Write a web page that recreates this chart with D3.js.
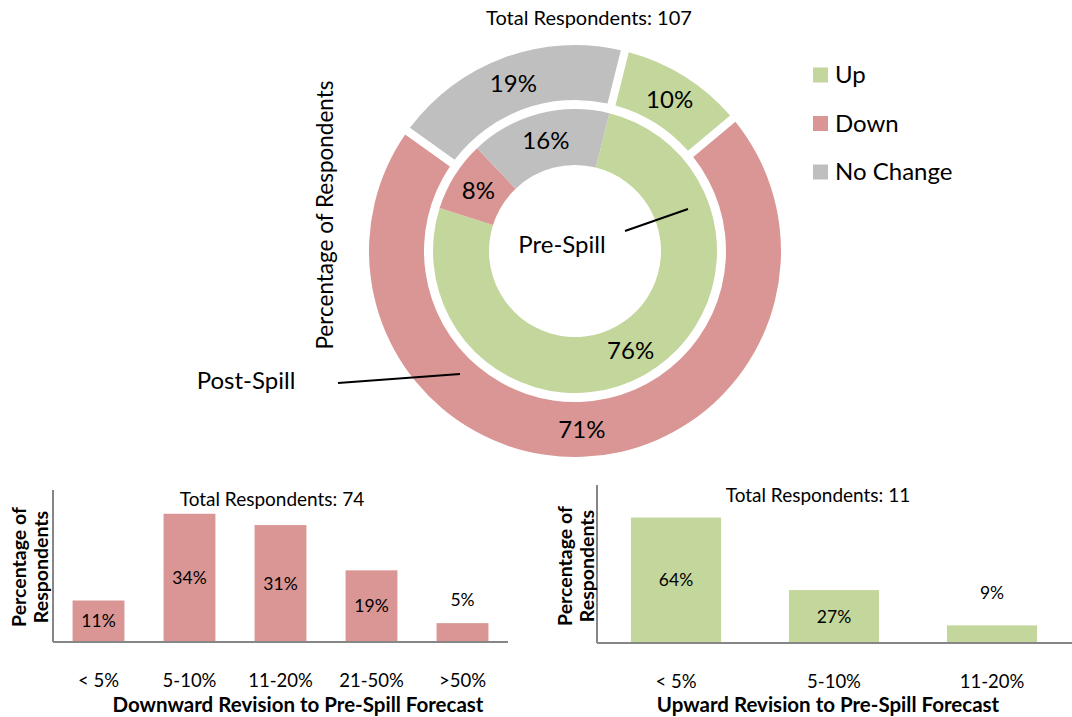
<!DOCTYPE html>
<html><head><meta charset="utf-8">
<script src="https://cdn.jsdelivr.net/npm/d3@7"></script>
<style>
body{margin:0;background:#fff;}
text{font-family:Lato,"Open Sans",sans-serif;fill:#000;}
</style></head>
<body><svg id="c" width="1072" height="717"></svg>
<script>
// ---------- data ----------
const donutCategories = ["Up", "Down", "No Change"];
const preSpill = [76, 8, 16];
const postSpill = [10, 71, 19];
const donutTotal = "Total Respondents: 107";

const downCategories = ["< 5%", "5-10%", "11-20%", "21-50%", ">50%"];
const downValues = [11, 34, 31, 19, 5];
const downTotal = "Total Respondents: 74";
const downTitle = "Downward Revision to Pre-Spill Forecast";

const upCategories = ["< 5%", "5-10%", "11-20%"];
const upValues = [64, 27, 9];
const upTotal = "Total Respondents: 11";
const upTitle = "Upward Revision to Pre-Spill Forecast";

const colors = {"Up": "#C3D69B", "Down": "#D99694", "No Change": "#BFBFBF"};
const axisColor = "#868686";

const svg = d3.select("#c");

// ---------- donut ----------
const cx = 575, cy = 251;
const start = 14 * Math.PI / 180;
const g = svg.append("g").attr("transform", `translate(${cx},${cy})`);

function ring(values, r0, r1, pad) {
  const p = d3.pie().sort(null).startAngle(start).endAngle(start + 2 * Math.PI).value(d => d.v)
    (values.map((v, i) => ({v, c: donutCategories[i]})));
  const arc = d3.arc().innerRadius(r0).outerRadius(r1);
  if (pad) arc.padAngle(pad).padRadius(178);
  g.selectAll(null).data(p).enter().append("path")
    .attr("d", arc).attr("fill", d => colors[d.data.c]);
  const lab = d3.arc().innerRadius(r0).outerRadius(r1);
  g.selectAll(null).data(p).enter().append("text")
    .attr("transform", d => `translate(${lab.centroid(d)})`)
    .attr("text-anchor", "middle").attr("dy", "0.35em")
    .style("font-size", "24px").text(d => d.data.v + "%");
}
ring(postSpill, 151, 206, 0.046);
ring(preSpill, 86, 142, 0);

svg.append("text").attr("x", 589).attr("y", 18).attr("dy", "0.35em")
  .attr("text-anchor", "middle").style("font-size", "20px").text(donutTotal);

svg.append("text").attr("transform", "translate(325,215) rotate(-90)")
  .attr("text-anchor", "middle").attr("dy", "0.35em").style("font-size", "22.5px")
  .text("Percentage of Respondents");

svg.append("text").attr("x", 562).attr("y", 245).attr("dy", "0.35em")
  .attr("text-anchor", "middle").style("font-size", "24px").text("Pre-Spill");
svg.append("line").attr("x1", 625).attr("y1", 231).attr("x2", 688).attr("y2", 209)
  .attr("stroke", "#000").attr("stroke-width", 2);
svg.append("text").attr("x", 246).attr("y", 381).attr("dy", "0.35em")
  .attr("text-anchor", "middle").style("font-size", "24px").text("Post-Spill");
svg.append("line").attr("x1", 338).attr("y1", 383).attr("x2", 460).attr("y2", 374)
  .attr("stroke", "#000").attr("stroke-width", 2);

// legend
const leg = svg.append("g");
donutCategories.forEach((c, i) => {
  const y = 75 + i * 48.5;
  leg.append("rect").attr("x", 813).attr("y", y - 7.5).attr("width", 15).attr("height", 15)
    .attr("fill", colors[c]);
  leg.append("text").attr("x", 835).attr("y", y).attr("dy", "0.35em")
    .style("font-size", "24px").text(c);
});

// ---------- bar charts ----------
function barChart(o) {
  const x = d3.scaleBand().domain(o.cats).range([o.x0, o.x1]).paddingInner(0.43).paddingOuter(0.215);
  const y = d3.scaleLinear().domain([0, o.max]).range([o.yb, o.yt]);
  const gg = svg.append("g");
  gg.selectAll(null).data(o.vals).enter().append("rect")
    .attr("x", (d, i) => x(o.cats[i])).attr("width", x.bandwidth())
    .attr("y", d => y(d)).attr("height", d => o.yb - y(d))
    .attr("fill", o.color);
  gg.selectAll(null).data(o.vals).enter().append("text")
    .attr("x", (d, i) => x(o.cats[i]) + x.bandwidth() / 2)
    .attr("y", d => (o.yb - y(d) > 30) ? (y(d) + o.yb) / 2 : y(d) - o.above)
    .attr("dy", "0.35em").attr("text-anchor", "middle").style("font-size", "17.5px")
    .text(d => d + "%");
  const ax = gg.append("g").attr("transform", `translate(0,${o.yb})`)
    .call(d3.axisBottom(x).tickSize(0).tickPadding(30));
  ax.select(".domain").attr("stroke", axisColor).attr("stroke-width", 2)
    .attr("d", `M${o.x0},0H${o.axisEnd}`);
  ax.selectAll(".tick text").style("font-size", "18.5px").style("font-family", "Lato,sans-serif")
    .attr("fill", "#000").attr("dy", "0.35em").attr("y", o.tickY - o.yb);
  gg.append("line").attr("x1", o.x0).attr("x2", o.x0).attr("y1", o.yt).attr("y2", o.yb)
    .attr("stroke", axisColor).attr("stroke-width", 2);
  gg.append("text").attr("x", o.totX).attr("y", o.totY).attr("dy", "0.35em")
    .attr("text-anchor", "middle").style("font-size", "19px").text(o.total);
  gg.append("text").attr("x", o.titleX).attr("y", o.titleY).attr("dy", "0.35em")
    .attr("text-anchor", "middle").style("font-size", "20.5px").style("font-weight", "bold").text(o.title);
  const yt = gg.append("text").attr("transform", `translate(${o.ytX},${o.ytY}) rotate(-90)`)
    .attr("text-anchor", "middle").style("font-size", "19.5px").style("font-weight", "bold");
  yt.append("tspan").attr("x", 0).attr("dy", "-0.22em").text("Percentage of");
  yt.append("tspan").attr("x", 0).attr("dy", "1.15em").text("Respondents");
}

barChart({cats: downCategories, vals: downValues, x0: 53, x1: 508, axisEnd: 508,
  yb: 642, yt: 490, max: 40.3, color: colors["Down"], above: 23, tickY: 681,
  totX: 272, totY: 499, total: downTotal, titleX: 298, titleY: 705, title: downTitle,
  ytX: 30, ytY: 567});
barChart({cats: upCategories, vals: upValues, x0: 597, x1: 1071, axisEnd: 1072,
  yb: 643, yt: 485, max: 80.6, color: colors["Up"], above: 32, tickY: 682,
  totX: 818, totY: 495, total: upTotal, titleX: 828, titleY: 705, title: upTitle,
  ytX: 576, ytY: 566});
</script></body></html>
